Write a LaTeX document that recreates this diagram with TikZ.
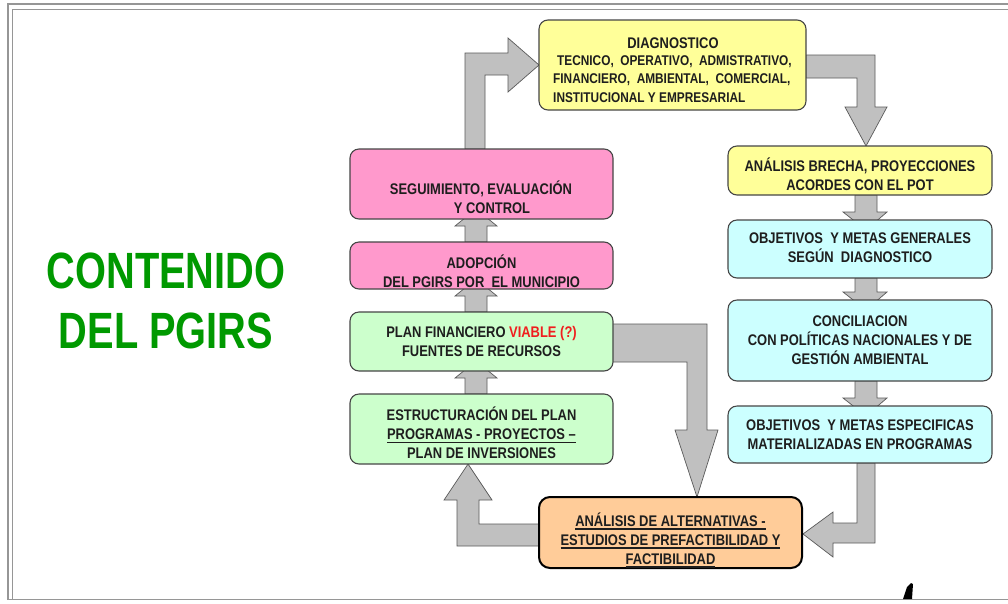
\documentclass[tikz,border=0pt]{standalone}
\usepackage{fontspec}
\setmainfont{Liberation Sans}
\newfontfamily\boxfont[FakeStretch=0.84]{Liberation Sans}
\newfontfamily\bigfont[FakeStretch=0.78]{Liberation Sans}
\newcommand\thickul[1]{\setbox0\hbox{#1}\rlap{\rule[-3.5pt]{\wd0}{1.5pt}}\box0}
\definecolor{yellowc}{RGB}{255,255,153}
\definecolor{pinkc}{RGB}{255,153,204}
\definecolor{greenc}{RGB}{204,255,204}
\definecolor{cyanc}{RGB}{204,255,255}
\definecolor{orangec}{RGB}{255,204,153}
\definecolor{boxline}{RGB}{70,70,70}
\definecolor{arrowfill}{RGB}{192,192,192}
\definecolor{arrowline}{RGB}{90,90,90}
\definecolor{textc}{RGB}{30,30,30}
\definecolor{titlec}{RGB}{0,153,0}
\definecolor{framec}{RGB}{150,150,150}
\definecolor{redc}{RGB}{240,30,30}
\begin{document}
\begin{tikzpicture}[x=1pt,y=-1pt,
  box/.style={draw=boxline, line width=1.1pt, rounded corners=9pt, inner sep=0pt},
  altbox/.style={draw=black, line width=2pt, rounded corners=11pt, inner sep=0pt, fill=orangec},
  barrow/.style={fill=arrowfill, draw=arrowline, line width=0.7pt, line join=miter},
  txt/.style={font=\boxfont\bfseries\fontsize{15.4}{19}\selectfont, text=textc, align=center, inner sep=0pt},
  smalltxt/.style={font=\boxfont\bfseries\fontsize{14.1}{18.5}\selectfont, text=textc, inner sep=0pt},
  bigtxt/.style={font=\bigfont\bfseries\fontsize{51}{60}\selectfont, text=titlec, align=center, inner sep=0pt}]
\useasboundingbox (0,0) rectangle (1008,603);
\fill[white] (0,0) rectangle (1008,603);
% frame
\draw[framec, line width=1.8pt] (1010,4) -- (8,4) -- (8,599.5) -- (1010,599.5);
\draw[framec, line width=1.4pt] (1010,9.5) -- (12.5,9.5) -- (12.5,599.5);
% title
\node[bigtxt] (title) at (166,301) {CONTENIDO\\DEL PGIRS};
% big arrows
\draw[barrow] (465,149) -- (465,53) -- (508,53) -- (508,38) -- (539,65) -- (508,92) -- (508,75) -- (485,75) -- (485,149) -- cycle;
\draw[barrow] (806,55) -- (875,55) -- (875,107) -- (887,107) -- (866,146) -- (845,107) -- (857,107) -- (857,78) -- (806,78) -- cycle;
\draw[barrow] (612,324) -- (707,324) -- (707,430) -- (718,430) -- (697,497) -- (675,430) -- (687,430) -- (687,362) -- (612,362) -- cycle;
\draw[barrow] (857,463) -- (875,463) -- (875,543) -- (833,543) -- (833,557) -- (803,534) -- (833,512) -- (833,523) -- (857,523) -- cycle;
\draw[barrow] (539,524) -- (479,524) -- (479,500) -- (492,500) -- (468,464) -- (444,500) -- (457,500) -- (457,546) -- (539,546) -- cycle;
% small arrows left (up)
\draw[barrow] (465,242) -- (465,226) -- (455,226) -- (476,209) -- (497,226) -- (487,226) -- (487,242) -- cycle;
\draw[barrow] (465,312) -- (465,296) -- (455,296) -- (476,279) -- (497,296) -- (487,296) -- (487,312) -- cycle;
\draw[barrow] (465,394) -- (465,378) -- (455,378) -- (476,361) -- (497,378) -- (487,378) -- (487,394) -- cycle;
% small arrows right (down)
\draw[barrow] (855,195) -- (855,212) -- (843,212) -- (866,230) -- (887,212) -- (877,212) -- (877,195) -- cycle;
\draw[barrow] (855,278) -- (855,292) -- (843,292) -- (866,310) -- (887,292) -- (877,292) -- (877,278) -- cycle;
\draw[barrow] (855,381) -- (855,398) -- (843,398) -- (866,416) -- (887,398) -- (877,398) -- (877,381) -- cycle;
% boxes
\node[box, fill=yellowc, minimum width=267pt, minimum height=90pt] (diag) at (672.5,65) {};
\node[box, fill=pinkc, minimum width=263pt, minimum height=70pt] (seg) at (481.5,184) {};
\node[box, fill=pinkc, minimum width=263pt, minimum height=47pt] (adop) at (481.5,265.5) {};
\node[box, fill=greenc, minimum width=263pt, minimum height=59pt] (plan) at (481.5,341.5) {};
\node[box, fill=greenc, minimum width=263pt, minimum height=70pt] (estr) at (481.5,429) {};
\node[box, fill=yellowc, minimum width=264pt, minimum height=49pt] (brecha) at (860,170.5) {};
\node[box, fill=cyanc, minimum width=264pt, minimum height=58pt] (objg) at (860,249) {};
\node[box, fill=cyanc, minimum width=264pt, minimum height=81pt] (conc) at (860,340.5) {};
\node[box, fill=cyanc, minimum width=264pt, minimum height=57pt] (obje) at (860,434.5) {};
\node[altbox, minimum width=263pt, minimum height=71pt] (alt) at (670.5,532.5) {};
% texts
\node[txt] (diagt) at (673,43) {DIAGNOSTICO};
\node[smalltxt, anchor=west, align=left] (diagb) at (553,79) {\hspace*{4pt}TECNICO,\ \ OPERATIVO,\ \ ADMISTRATIVO,\\FINANCIERO,\ \ AMBIENTAL,\ \ COMERCIAL,\\INSTITUCIONAL Y EMPRESARIAL};
\node[txt] (segt) at (481,197) {SEGUIMIENTO, EVALUACIÓN\\\hspace*{22pt}Y CONTROL};
\node[txt] (adopt) at (481.5,271) {ADOPCIÓN\\DEL PGIRS POR\ \ EL MUNICIPIO};
\node[txt] (plant) at (481.5,341) {PLAN FINANCIERO \textcolor{redc}{VIABLE (?)}\\FUENTES DE RECURSOS};
\node[txt] (estrt) at (481.5,433) {ESTRUCTURACIÓN DEL PLAN\\\thickul{PROGRAMAS - PROYECTOS –}\\PLAN DE INVERSIONES};
\node[txt] (brechat) at (860,174) {ANÁLISIS BRECHA, PROYECCIONES\\ACORDES CON EL POT};
\node[txt] (objgt) at (860,248) {OBJETIVOS\ \ Y METAS GENERALES\\SEGÚN\ \ DIAGNOSTICO};
\node[txt] (conct) at (860,340) {CONCILIACION\\CON POLÍTICAS NACIONALES Y DE\\GESTIÓN AMBIENTAL};
\node[txt] (objet) at (860,435) {OBJETIVOS\ \ Y METAS ESPECIFICAS\\MATERIALIZADAS EN PROGRAMAS};
\node[txt] (altt) at (670.5,540) {\thickul{ANÁLISIS DE ALTERNATIVAS -}\\\thickul{ESTUDIOS DE PREFACTIBILIDAD Y}\\\thickul{FACTIBILIDAD}};
% small mark
\fill[black] (903,599) -- (907,587) -- (911,583) -- (913,584) -- (912,599) -- cycle;
\end{tikzpicture}
\end{document}
